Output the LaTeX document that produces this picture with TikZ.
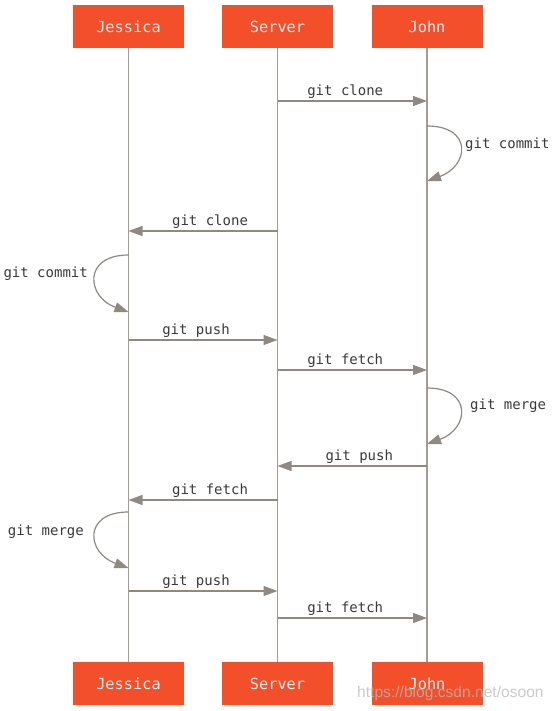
\documentclass[tikz,border=0pt]{standalone}
\usepackage{fontspec}
\setmonofont{DejaVu Sans Mono}
\setsansfont{Liberation Sans}
\usetikzlibrary{arrows.meta}
\definecolor{gitorange}{HTML}{F34F2A}
\definecolor{lifegray}{HTML}{A29C95}
\definecolor{arrgray}{HTML}{8E8982}
\definecolor{labeltext}{HTML}{3A3A3A}
\tikzset{
  actor/.style={fill=gitorange, draw=none, minimum width=111pt, minimum height=43pt, inner sep=0pt,
     text=white!94!black, font=\ttfamily\fontsize{15.3}{18}\selectfont},
  lifeline/.style={draw=lifegray, line width=1.3pt},
  msg/.style={draw=arrgray, line width=1.2pt, -{Triangle[length=14pt,width=10pt]}},
  lbl/.style={text=labeltext, font=\ttfamily\fontsize{14}{16}\selectfont, inner sep=0pt},
}
\begin{document}
\begin{tikzpicture}[x=1pt,y=-1pt]
\useasboundingbox[fill=white] (0,0) rectangle (553,711);
% actors
\node[actor] (jt) at (128.5,26.5) {Jessica};
\node[actor] (st) at (277.5,26.5) {Server};
\node[actor] (ht) at (427,26.5) {John};
\node[actor] (jb) at (128.5,683.5) {Jessica};
\node[actor] (sb) at (277.5,683.5) {Server};
\node[actor] (hb) at (427,683.5) {John};
% lifelines
\draw[lifeline] (jt.south) -- (jb.north);
\draw[lifeline] (st.south) -- (sb.north);
\draw[lifeline] (ht.south) -- (hb.north);
% message points
\coordinate (s1) at (277.5,101); \coordinate (h1) at (427,101);
\coordinate (h2a) at (427,126); \coordinate (h2b) at (427,181);
\coordinate (s3) at (277.5,231); \coordinate (j3) at (128.5,231);
\coordinate (j4a) at (128.5,255); \coordinate (j4b) at (128.5,312);
\coordinate (j5) at (128.5,340); \coordinate (s5) at (277.5,340);
\coordinate (s6) at (277.5,370); \coordinate (h6) at (427,370);
\coordinate (h7a) at (427,388); \coordinate (h7b) at (427,444);
\coordinate (h8) at (427,466); \coordinate (s8) at (277.5,466);
\coordinate (s9) at (277.5,500); \coordinate (j9) at (128.5,500);
\coordinate (j10a) at (128.5,512); \coordinate (j10b) at (128.5,568);
\coordinate (j11) at (128.5,591); \coordinate (s11) at (277.5,591);
\coordinate (s12) at (277.5,618); \coordinate (h12) at (427,618);
% messages
\draw[msg] (s1) -- node[lbl, pos=0.453, above=2pt] {git clone} (h1);
\draw[msg] (h2a) .. controls +(46,0) and +(42,-15) .. (h2b);
\node[lbl, anchor=west] (l2) at (465,145) {git commit};
\draw[msg] (s3) -- node[lbl, pos=0.453, above=2pt] {git clone} (j3);
\draw[msg] (j4a) .. controls +(-46,0) and +(-42,-15) .. (j4b);
\node[lbl, anchor=east] (l4) at (88,274) {git commit};
\draw[msg] (j5) -- node[lbl, pos=0.453, above=2pt] {git push} (s5);
\draw[msg] (s6) -- node[lbl, pos=0.453, above=2pt] {git fetch} (h6);
\draw[msg] (h7a) .. controls +(46,0) and +(42,-15) .. (h7b);
\node[lbl, anchor=west] (l7) at (470,406) {git merge};
\draw[msg] (h8) -- node[lbl, pos=0.453, above=2pt] {git push} (s8);
\draw[msg] (s9) -- node[lbl, pos=0.453, above=2pt] {git fetch} (j9);
\draw[msg] (j10a) .. controls +(-46,0) and +(-42,-15) .. (j10b);
\node[lbl, anchor=east] (l10) at (84,532) {git merge};
\draw[msg] (j11) -- node[lbl, pos=0.453, above=2pt] {git push} (s11);
\draw[msg] (s12) -- node[lbl, pos=0.453, above=2pt] {git fetch} (h12);
% watermark
\node[text=gray!55, opacity=0.75, font=\sffamily\fontsize{15.6}{18}\selectfont, anchor=west, inner sep=0pt] (wm) at (357,693) {https://blog.csdn.net/osoon};
\end{tikzpicture}
\end{document}
